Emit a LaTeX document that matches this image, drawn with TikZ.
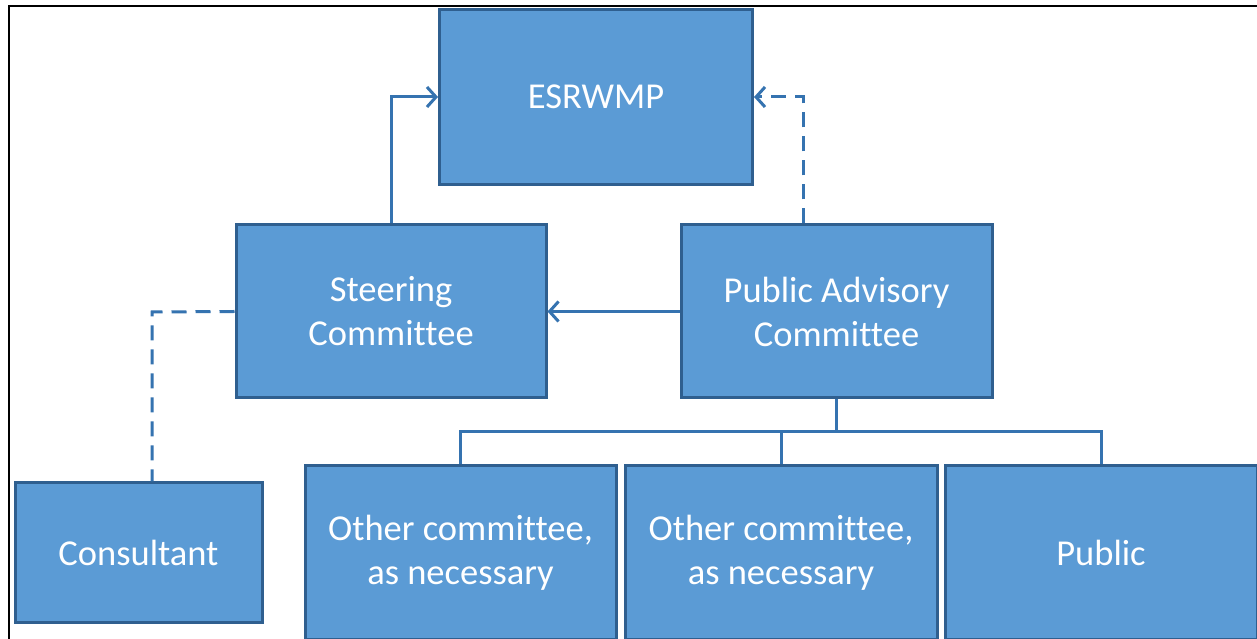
\documentclass[tikz,border=0pt]{standalone}
\usepackage{fontspec}
\setmainfont{Carlito}[Ligatures=NoCommon]
\usepackage{tikz}
\usepackage{xcolor}
\usetikzlibrary{positioning,shapes,arrows.meta}

\definecolor{boxfill}{HTML}{5B9BD5}
\definecolor{boxline}{HTML}{2F5F8F}
\definecolor{linkblue}{HTML}{3573B0}

\begin{document}
\begin{tikzpicture}[x=1pt,y=1pt,
  unit/.style={draw=boxline,fill=boxfill,line width=3pt,rectangle,
    text=white,align=center,inner sep=0pt,
    font=\fontsize{36.5}{44}\selectfont},
  link/.style={draw=linkblue,line width=3pt},
  dlink/.style={link,dash pattern=on 15pt off 9pt},
  tip/.style={-{Straight Barb[length=9pt,width=20pt,line width=3pt]}}]
  \clip (0,0) rectangle (1257,639);
  \fill[white] (0,0) rectangle (1257,639);
  \draw[line width=2.5pt] (9,0) -- (9,633) -- (1257,633);

  \node[unit,minimum width=313pt,minimum height=175pt] (esr) at (596,542) {ESRWMP};
  \node[unit,minimum width=310pt,minimum height=173pt] (steer) at (391,327.5) {Steering\\Committee};
  \node[unit,minimum width=311pt,minimum height=173pt] (pac) at (836.5,327.5) {Public Advisory\\Committee};
  \node[unit,minimum width=247pt,minimum height=140pt] (cons) at (138.5,86) {Consultant};
  \node[unit,minimum width=311pt,minimum height=174pt] (oc1) at (460.5,86) {Other committee,\\as necessary};
  \node[unit,minimum width=312pt,minimum height=174pt] (oc2) at (781,86) {Other committee,\\as necessary};
  \node[unit,minimum width=312pt,minimum height=174pt] (pub) at (1101,86) {Public};

  \coordinate (bus) at (836.5,207);
  \coordinate (cbend) at (152,327);

  \draw[link,tip] (steer.north) |- (esr.west);
  \draw[dlink,tip] ([xshift=-33.5pt]pac.north) |- (esr.east);
  \draw[link,tip] (pac.west) -- (steer.east);
  \draw[dlink] (steer.west) -- (cbend) -- (cbend |- cons.north);
  \draw[link] (pac.south) -- (bus);
  \draw[link] (oc1.north) -- (oc1.north |- bus) -- (pub.north |- bus) -- (pub.north);
  \draw[link] (oc2.north) -- (oc2.north |- bus);
\end{tikzpicture}
\end{document}
